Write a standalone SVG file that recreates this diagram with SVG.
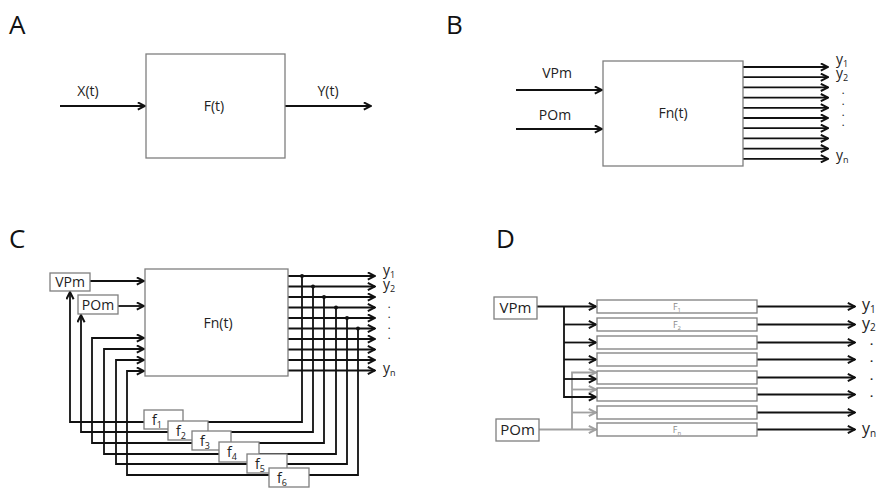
<svg xmlns="http://www.w3.org/2000/svg" width="882" height="489" viewBox="0 0 882 489">
<defs>
<style>
text{font-family:"Open Sans","Noto Sans","Liberation Sans",sans-serif;fill:#222;font-size:14px}
.panel{font-size:26px;fill:#111}
.mid{text-anchor:middle}
.box{fill:#fff;stroke:#7f7f7f;stroke-width:1.3}
.ln{fill:none;stroke:#111;stroke-width:1.8}
.lg{fill:none;stroke:#a0a0a0;stroke-width:1.8}
.y{font-size:14px}
.sub{font-size:9px}
.dot{font-size:8px;font-weight:bold}
.dotd{font-size:11px;font-weight:bold}
.small{font-size:9px;fill:#888}
.yd{font-size:16px}
.subd{font-size:10px}
</style>
<marker id="arr" viewBox="0 0 10 10" refX="9" refY="5" markerWidth="9" markerHeight="9" markerUnits="userSpaceOnUse" orient="auto">
<path d="M1,1 L9,5 L1,9" fill="none" stroke="#111" stroke-width="2.2"/>
</marker>
<marker id="arrg" viewBox="0 0 10 10" refX="9" refY="5" markerWidth="9" markerHeight="9" markerUnits="userSpaceOnUse" orient="auto">
<path d="M1,1 L9,5 L1,9" fill="none" stroke="#a0a0a0" stroke-width="2.2"/>
</marker>
</defs>
<rect width="882" height="489" fill="#fff"/>

<g id="panel-labels">
<text class="panel" x="9" y="34">A</text>
<text class="panel" x="446" y="34">B</text>
<text class="panel" x="9" y="248">C</text>
<text class="panel" x="496" y="248">D</text>
</g>

<g id="connectors">
<!-- A -->
<path class="ln" d="M60,106 H145" marker-end="url(#arr)"/>
<path class="ln" d="M285,106 H371" marker-end="url(#arr)"/>
<!-- B -->
<path class="ln" d="M516,90 H602" marker-end="url(#arr)"/>
<path class="ln" d="M516,129 H602" marker-end="url(#arr)"/>
<g marker-end="url(#arr)" class="ln">
<path d="M743,67 H828"/><path d="M743,77.2 H828"/><path d="M743,87.4 H828"/><path d="M743,97.6 H828"/><path d="M743,107.8 H828"/><path d="M743,118 H828"/><path d="M743,128.2 H828"/><path d="M743,138.4 H828"/><path d="M743,148.6 H828"/><path d="M743,158.8 H828"/>
</g>
<!-- C -->
<path class="ln" d="M90,281 H144" marker-end="url(#arr)"/>
<path class="ln" d="M118,306 H144" marker-end="url(#arr)"/>
<g marker-end="url(#arr)" class="ln">
<path d="M288,276 H375"/><path d="M288,286.5 H375"/><path d="M288,297 H375"/><path d="M288,307.5 H375"/><path d="M288,318 H375"/><path d="M288,328.5 H375"/><path d="M288,339 H375"/><path d="M288,349.5 H375"/><path d="M288,360 H375"/><path d="M288,370.5 H375"/>
</g>
<path class="ln" d="M302,276 V422 H70 V292" marker-end="url(#arr)"/>
<path class="ln" d="M313,286.5 V432 H81 V315" marker-end="url(#arr)"/>
<path class="ln" d="M324,297 V443 H92 V338 H144" marker-end="url(#arr)"/>
<path class="ln" d="M336,307.5 V454 H104 V349 H144" marker-end="url(#arr)"/>
<path class="ln" d="M347,318 V464 H116 V360 H144" marker-end="url(#arr)"/>
<path class="ln" d="M358,328.5 V475 H127 V371 H144" marker-end="url(#arr)"/>
<g fill="#111">
<circle cx="302" cy="276" r="2"/><circle cx="313" cy="286.5" r="2"/><circle cx="324" cy="297" r="2"/><circle cx="336" cy="307.5" r="2"/><circle cx="347" cy="318" r="2"/><circle cx="358" cy="328.5" r="2"/>
</g>
<!-- D -->
<g class="lg" marker-end="url(#arrg)">
<path d="M539,429.5 H596"/>
<path d="M572,429.5 V372.5 H596"/>
<path d="M572,389.5 H596"/>
<path d="M572,412.5 H596"/>
</g>
<g class="ln" marker-end="url(#arr)">
<path d="M537,306.5 H596"/>
<path d="M564,306.5 V397 H596"/>
<path d="M564,324.5 H596"/>
<path d="M564,342.5 H596"/>
<path d="M564,359.5 H596"/>
<path d="M564,379 H596"/>
</g>
<g class="ln" marker-end="url(#arr)">
<path d="M757,306.5 H855"/><path d="M757,324.5 H855"/><path d="M757,342.5 H855"/><path d="M757,359.5 H855"/><path d="M757,377.5 H855"/><path d="M757,394.5 H855"/><path d="M757,412.5 H855"/><path d="M757,429.5 H855"/>
</g>
</g>

<!-- A nodes -->
<g id="A-F">
<rect class="box" x="146" y="54" width="139" height="104"/>
<text class="mid" x="214" y="111">F(t)</text>
</g>
<g id="A-labels">
<text class="mid" x="88" y="96">X(t)</text>
<text class="mid" x="328" y="96">Y(t)</text>
</g>

<!-- B nodes -->
<g id="B-Fn">
<rect class="box" x="603" y="61" width="140" height="105"/>
<text class="mid" x="673" y="118">Fn(t)</text>
</g>
<g id="B-labels">
<text class="mid" x="557" y="78">VPm</text>
<text class="mid" x="555" y="120">POm</text>
<text class="y" x="836" y="64">y<tspan class="sub" dy="3">1</tspan></text>
<text class="y" x="836" y="78">y<tspan class="sub" dy="3">2</tspan></text>
<text class="dot" x="842" y="94">.</text>
<text class="dot" x="842" y="105">.</text>
<text class="dot" x="842" y="116">.</text>
<text class="dot" x="842" y="126">.</text>
<text class="y" x="836" y="160">y<tspan class="sub" dy="3">n</tspan></text>
</g>

<!-- C nodes -->
<g id="C-Fn">
<rect class="box" x="145" y="269" width="143" height="107"/>
<text class="mid" x="218" y="328">Fn(t)</text>
</g>
<g id="C-VPm">
<rect class="box" x="50" y="273" width="40" height="18"/>
<text class="mid" x="70" y="287">VPm</text>
</g>
<g id="C-POm">
<rect class="box" x="78" y="295" width="40" height="19"/>
<text class="mid" x="98" y="310">POm</text>
</g>
<g id="C-f1"><rect class="box" x="144" y="410" width="39" height="19"/><text x="152" y="425">f<tspan class="sub" dy="3">1</tspan></text></g>
<g id="C-f2"><rect class="box" x="168" y="421" width="40" height="19"/><text x="176" y="436">f<tspan class="sub" dy="3">2</tspan></text></g>
<g id="C-f3"><rect class="box" x="192" y="431" width="39" height="19"/><text x="200" y="446">f<tspan class="sub" dy="3">3</tspan></text></g>
<g id="C-f4"><rect class="box" x="219" y="442" width="40" height="20"/><text x="227" y="457">f<tspan class="sub" dy="3">4</tspan></text></g>
<g id="C-f5"><rect class="box" x="247" y="454" width="40" height="19"/><text x="255" y="469">f<tspan class="sub" dy="3">5</tspan></text></g>
<g id="C-f6"><rect class="box" x="269" y="468" width="40" height="19"/><text x="277" y="483">f<tspan class="sub" dy="3">6</tspan></text></g>
<g id="C-labels">
<text class="y" x="383" y="275">y<tspan class="sub" dy="3">1</tspan></text>
<text class="y" x="383" y="289">y<tspan class="sub" dy="3">2</tspan></text>
<text class="dot" x="388" y="308">.</text>
<text class="dot" x="388" y="318">.</text>
<text class="dot" x="388" y="329">.</text>
<text class="dot" x="388" y="339">.</text>
<text class="y" x="383" y="373">y<tspan class="sub" dy="3">n</tspan></text>
</g>

<!-- D nodes -->
<g id="D-VPm">
<rect class="box" x="494" y="297" width="43" height="22"/>
<text class="mid" x="515.5" y="313" style="font-size:15px">VPm</text>
</g>
<g id="D-POm">
<rect class="box" x="496" y="419" width="43" height="22"/>
<text class="mid" x="517.5" y="435" style="font-size:15px">POm</text>
</g>
<g id="D-F1"><rect class="box" x="597" y="300" width="160" height="13"/><text class="small mid" x="677" y="310">F<tspan font-size="6" dy="2">1</tspan></text></g>
<g id="D-F2"><rect class="box" x="597" y="318" width="160" height="13"/><text class="small mid" x="677" y="328">F<tspan font-size="6" dy="2">2</tspan></text></g>
<g id="D-F3"><rect class="box" x="597" y="336" width="160" height="13"/></g>
<g id="D-F4"><rect class="box" x="597" y="353" width="160" height="13"/></g>
<g id="D-F5"><rect class="box" x="597" y="371" width="160" height="13"/></g>
<g id="D-F6"><rect class="box" x="597" y="388" width="160" height="13"/></g>
<g id="D-F7"><rect class="box" x="597" y="406" width="160" height="13"/></g>
<g id="D-Fn"><rect class="box" x="597" y="423" width="160" height="13"/><text class="small mid" x="677" y="433">F<tspan font-size="6" dy="2">n</tspan></text></g>
<g id="D-labels">
<text class="yd" x="862" y="310">y<tspan class="subd" dy="3">1</tspan></text>
<text class="yd" x="862" y="329">y<tspan class="subd" dy="2">2</tspan></text>
<text class="dotd" x="870" y="345">.</text>
<text class="dotd" x="870" y="362">.</text>
<text class="dotd" x="870" y="380">.</text>
<text class="dotd" x="870" y="397">.</text>
<text class="yd" x="862" y="434">y<tspan class="subd" dy="3">n</tspan></text>
</g>
</svg>
